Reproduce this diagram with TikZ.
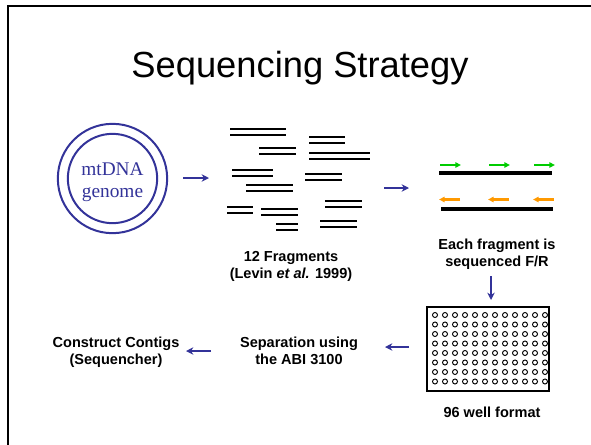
\documentclass[tikz,border=0pt]{standalone}
\usepackage{fontspec}
\setmainfont{Liberation Sans}
\newfontfamily\serifface{Liberation Serif}
\usepackage{xcolor}
\usetikzlibrary{arrows.meta,positioning}
\definecolor{slide-blue}{RGB}{51,51,153}
\definecolor{primer-green}{RGB}{0,204,0}
\definecolor{primer-orange}{RGB}{255,153,0}

\begin{document}
\begin{tikzpicture}[x=0.03cm, y=-0.03cm,
    lbl/.style={font=\bfseries\fontsize{12.4}{14.5}\selectfont, align=center, inner sep=0pt},
    ring/.style={shape=circle, draw=slide-blue, line width=1.7pt, inner sep=0pt},
    post/.style={-{Stealth[length=2.2mm,width=2.2mm]}, line width=1.6pt, color=slide-blue},
    frag/.style={line width=1.8pt, double=white, double distance=2.9pt},
    strand/.style={line width=2.8pt},
    primer/.style={-{Triangle[length=1.7mm,width=1.6mm]}, line width=2pt}]

  \useasboundingbox (0,0) rectangle (591,444);
  \begin{scope}
    \clip (0,0) rectangle (591,444);
    \draw[line width=2.2pt] (8,6) rectangle (650,500);
  \end{scope}

  \node[font=\fontsize{31}{36}\selectfont, anchor=base] (title) at (300,77) {Sequencing Strategy};

  % genome
  \node[ring, minimum size=3.28cm] (genome) at (112.5,178.5) {};
  \node[ring, minimum size=2.68cm] (genome core) at (genome.center) {};
  \node[font=\serifface\fontsize{16.5}{18.7}\selectfont, text=slide-blue, align=center, inner sep=0pt]
    (mtdna) at (112.5,182) {mtDNA\\genome};

  % fragments
  \foreach \xa/\xb/\yy in {230/286/132, 309/345/140, 259/296/151, 309/370/156,
      232/273/173, 305/342/177, 246/293/188, 325/362/204, 227/253/210,
      261/298/212, 276/298/227, 320/357/224}
    \draw[frag] (\xa,\yy) -- (\xb,\yy);
  \node[lbl] (frags) at (291,266.5) {12 Fragments\\(Levin \textit{et al.} 1999)};

  % forward / reverse
  \draw[strand] (439,173) coordinate (fwd start) -- (552,173) coordinate (fwd end);
  \draw[strand] (441,209) coordinate (rev start) -- (553,209) coordinate (rev end);
  \foreach \xs in {440,489,534}
    \draw[primer, primer-green] (\xs,165) -- (\xs+21,165);
  \foreach \xs in {460,509,554}
    \draw[primer, primer-orange] (\xs,199.5) -- (\xs-21,199.5);
  \node[lbl] (seqfr) at (497,254) {Each fragment is\\sequenced F/R};

  % plate
  \draw[line width=1pt] (427,307) coordinate (plate nw) rectangle (549,391) coordinate (plate se);
  \foreach \c in {0,...,11}
    \foreach \r in {0,...,7}
      \draw[line width=0.8pt] (435+10*\c,315+9.5*\r) circle[radius=0.75mm];
  \node[lbl] (plate label) at (492,412.5) {96 well format};

  \node[lbl] (abi) at (299,350.5) {Separation using\\the ABI 3100};
  \node[lbl] (contigs) at (116,352) {Construct Contigs\\(Sequencher)};

  % arrows
  \coordinate (a1) at (183,178);   \coordinate (b1) at (209,178);
  \coordinate (a2) at (384,188);   \coordinate (b2) at (409,188);
  \coordinate (a3) at (491,276);   \coordinate (b3) at (491,300);
  \coordinate (a4) at (409,347);   \coordinate (b4) at (385,347);
  \coordinate (a5) at (211,351);   \coordinate (b5) at (186,351);
  \foreach \i in {1,...,5}
    \draw[post] (a\i) -- (b\i);
\end{tikzpicture}
\end{document}
